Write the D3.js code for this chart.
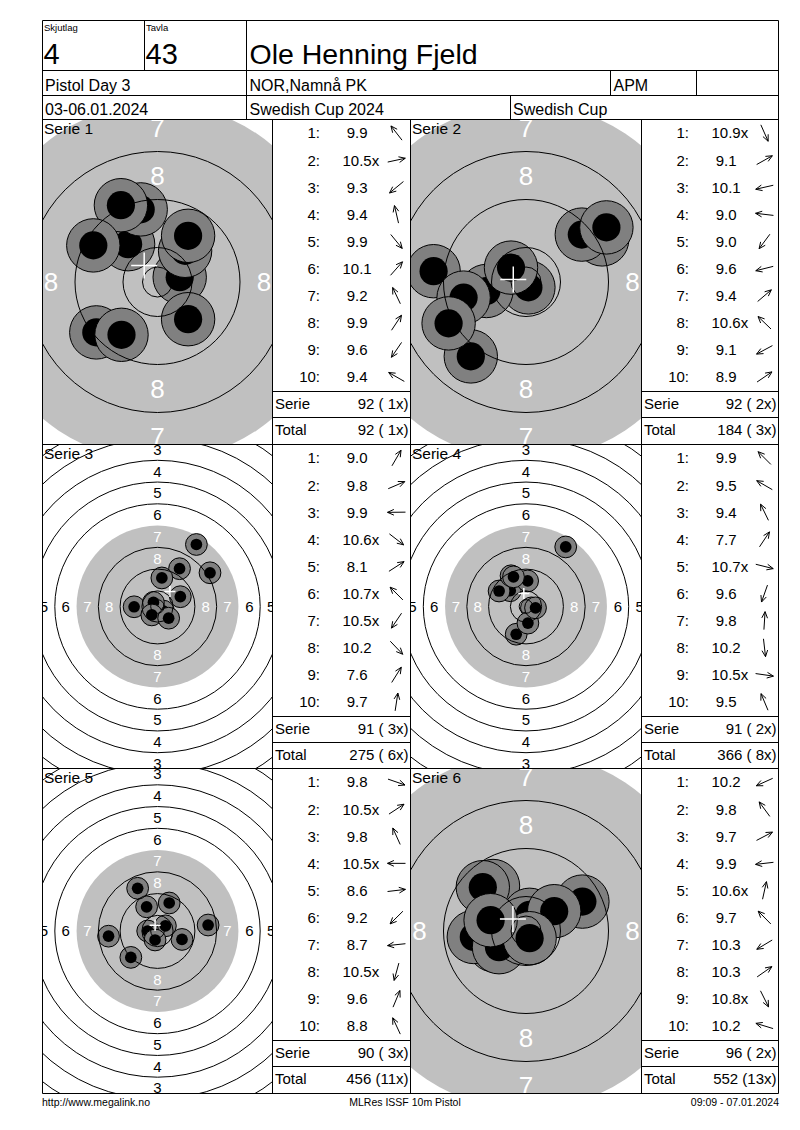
<!DOCTYPE html>
<html>
<head>
<meta charset="utf-8">
<script src="https://cdn.jsdelivr.net/npm/d3@7"></script>
<style>
  body { margin: 0; background: #fff; }
  svg { display: block; font-family: "Liberation Sans", Arial, sans-serif; }
  text { white-space: pre; }
</style>
</head>
<body>
<svg id="card" width="800" height="1130"></svg>
<script>
// header texts
const skjutlag = "4", tavla = "43", shooter = "Ole Henning Fjeld";
const eventName = "Pistol Day 3", club = "NOR,Namnå PK", klass = "APM";
const dates = "03-06.01.2024", competition = "Swedish Cup 2024", cup = "Swedish Cup";
const footLeft = "http://www.megalink.no", footMid = "MLRes ISSF 10m Pistol", footRight = "09:09 - 07.01.2024";

// ISSF 10m pistol target: ring diameters in mm (ring 1..10) and inner ten
const ringNumbers = [1, 2, 3, 4, 5, 6, 7, 8, 9, 10];
const ringDiam = [155.5, 139.5, 123.5, 107.5, 91.5, 75.5, 59.5, 43.5, 27.5, 11.5];
const innerTenDiam = 5.0;

const serieNames = ["Serie 1", "Serie 2", "Serie 3", "Serie 4", "Serie 5", "Serie 6"];
const serieView = ["near", "near", "far", "far", "far", "near"];

// shot scores as printed, and hit positions in mm (x right, y up)
const scores1 = ["9.9", "10.5x", "9.3", "9.4", "9.9", "10.1", "9.2", "9.9", "9.6", "9.4"];
const posX1 = [-4.9, 3.7, -10.2, -2.8, 5.1, 4.6, -6.1, 5.1, -6.0, -10.7];
const posY1 = [6.3, 0.8, -8.4, 12.1, -6.2, 5.2, 12.8, 7.7, -8.8, 6.1];

const scores2 = ["10.9x", "9.1", "10.1", "9.0", "9.0", "9.6", "9.4", "10.6x", "9.1", "8.9"];
const posX2 = [0.4, 12.7, -6.6, -15.4, -9.2, -10.4, 9.3, -2.5, -12.9, 13.4];
const posY2 = [-0.9, 7.1, -1.5, 1.8, -12.4, -2.6, 7.9, 2.4, -6.9, 9.1];

const scores3 = ["9.0", "9.8", "9.9", "10.6x", "8.1", "10.7x", "10.5x", "10.2", "7.6", "9.7"];
const posX3 = [8.1, 8.4, -8.6, 2.2, 19.3, -1.5, -2.1, 4.1, 14.3, 1.6];
const posY3 = [13.9, 3.6, -0.1, -1.7, 12.4, 1.5, -3.1, -4.3, 22.8, 10.5];

const scores4 = ["9.9", "9.5", "9.4", "7.7", "10.7x", "9.6", "9.8", "10.2", "10.5x", "9.5"];
const posX4 = [-5.8, -9.9, -5.5, 14.6, 2.0, -3.6, 0.6, 0.7, 3.5, -4.6];
const posY4 = [5.8, 5.7, 11.3, 21.9, -0.5, -10.2, 9.4, -6.1, -0.5, 10.9];

const scores5 = ["9.8", "10.5x", "9.8", "10.5x", "8.6", "9.2", "8.7", "10.5x", "9.6", "8.8"];
const posX5 = [9.0, 2.9, -4.0, -3.6, 18.6, -9.8, -18.0, -0.9, 4.3, -7.3];
const posY5 = [-3.1, 1.9, 8.9, 0.0, 2.2, -9.7, -1.9, -3.3, 10.3, 15.7];

const scores6 = ["10.2", "9.8", "9.7", "9.9", "10.6x", "9.7", "10.3", "10.3", "10.8x", "10.2"];
const posX6 = [-5.3, -5.5, 9.4, -8.7, 0.6, -7.2, -4.5, 4.7, 0.6, -5.9];
const posY6 = [-2.4, 7.5, 4.9, -1.0, 2.7, 7.3, -2.7, 3.3, -1.2, 1.8];

const allScores = [scores1, scores2, scores3, scores4, scores5, scores6];
const allX = [posX1, posX2, posX3, posX4, posX5, posX6];
const allY = [posY1, posY2, posY3, posY4, posY5, posY6];

// layout
const X0 = 42.5, XL1 = 272.5, XM = 410.5, XL2 = 641.5, X1 = 778.5;
const YT = 20.5, YH1 = 70.5, YH2 = 95.5;
const blockY = [119.5, 444.5, 768.5, 1093.5];
const rowH = 27.1;

const views = {
    near: { k: 6.0, font: 26, outer: 4.45, inner: 2.35, cross: 13 },
    far: { k: 2.72, font: 15, outer: 4.0, inner: 2.15, cross: 5.5 }
};

const svg = d3.select("#card");
svg.append("rect").attr("width", 800).attr("height", 1130).attr("fill", "#fff");
const defs = svg.append("defs");

const series = serieNames.map((name, i) => ({
    name,
    view: views[serieView[i]],
    shots: allScores[i].map((s, j) => ({
        n: j + 1, label: s, value: parseFloat(s), x: allX[i][j], y: allY[i][j],
        inner: s.endsWith("x")
    }))
}));

let runTotal = 0, runX = 0;

series.forEach((serie, i) => {
    const col = i % 2, row = Math.floor(i / 2);
    const tx0 = col ? XM : X0, tx1 = col ? XL2 : XL1;
    const lx0 = tx1, lx1 = col ? X1 : XM;
    const by0 = blockY[row], by1 = blockY[row + 1];
    const cx = (tx0 + tx1) / 2, cy = (by0 + by1) / 2;
    const v = serie.view;

    const x = d3.scaleLinear().domain([-1, 1]).range([cx - v.k, cx + v.k]);
    const y = d3.scaleLinear().domain([-1, 1]).range([cy + v.k, cy - v.k]);
    const r = d3.scaleLinear().domain([0, 1]).range([0, v.k]);

    defs.append("clipPath").attr("id", "clip" + i)
        .append("rect")
        .attr("x", tx0).attr("y", by0)
        .attr("width", tx1 - tx0).attr("height", by1 - by0);

    const g = svg.append("g").attr("clip-path", `url(#clip${i})`);

    // black aiming area (7 ring) shown grey
    g.append("circle")
        .attr("cx", x(0)).attr("cy", y(0))
        .attr("r", r(ringDiam[6] / 2))
        .attr("fill", "#c0c0c0");

    // ring numbers (under the shots), only those that fall inside the target cell
    const dirs = [[0, 1], [0, -1], [-1, 0], [1, 0]];
    const labels = [];
    ringNumbers.filter(n => n <= 8).forEach(n => {
        const lr = ringDiam[n - 1] / 2 - 4;
        dirs.forEach(([dx, dy]) => {
            const px = x(dx * lr), py = y(dy * lr);
            if (px > tx0 - 3 && px < tx1 + 3 && py > by0 - 3 && py < by1 + 3) labels.push({ n, px, py });
        });
    });
    g.selectAll("text.ringnum")
        .data(labels)
        .join("text")
        .attr("class", "ringnum")
        .attr("x", d => d.px)
        .attr("y", d => d.py)
        .attr("dy", "0.36em")
        .attr("text-anchor", "middle")
        .attr("font-size", v.font)
        .attr("fill", d => d.n >= 7 ? "#fff" : "#000")
        .text(d => d.n);

    // shots
    const shot = g.selectAll("g.shot")
        .data(serie.shots)
        .join("g")
        .attr("class", "shot");
    shot.append("circle")
        .attr("cx", d => x(d.x)).attr("cy", d => y(d.y))
        .attr("r", r(v.outer))
        .attr("fill", "#808080")
        .attr("stroke", "#000")
        .attr("stroke-width", 1);
    shot.append("circle")
        .attr("cx", d => x(d.x)).attr("cy", d => y(d.y))
        .attr("r", r(v.inner))
        .attr("fill", "#000");

    // ring lines
    g.selectAll("circle.ring")
        .data(ringNumbers.filter(n => n !== 7))
        .join("circle")
        .attr("class", "ring")
        .attr("cx", x(0)).attr("cy", y(0))
        .attr("r", n => r(ringDiam[n - 1] / 2))
        .attr("fill", "none")
        .attr("stroke", "#000")
        .attr("stroke-width", 1);
    g.append("circle")
        .attr("cx", x(0)).attr("cy", y(0))
        .attr("r", r(innerTenDiam / 2))
        .attr("fill", "none")
        .attr("stroke", "#000")
        .attr("stroke-width", 1);

    // group centre
    const mx = d3.mean(serie.shots, d => d.x), my = d3.mean(serie.shots, d => d.y);
    g.append("path")
        .attr("d", `M${x(mx) - v.cross},${y(my)}H${x(mx) + v.cross}M${x(mx)},${y(my) - v.cross}V${y(my) + v.cross}`)
        .attr("stroke", "#fff")
        .attr("stroke-width", 1.5);

    g.append("text")
        .attr("x", tx0 + 1.5).attr("y", by0 + 14.5)
        .attr("font-size", 15.5)
        .text(serie.name);

    // shot list
    const list = svg.append("g").attr("font-size", 15);
    serie.shots.forEach((s, j) => {
        const rc = by0 + rowH * j + rowH / 2;
        list.append("text")
            .attr("x", lx0 + 47.5).attr("y", rc).attr("dy", "0.36em")
            .attr("text-anchor", "end")
            .text(s.n + ":");
        list.append("text")
            .attr("x", lx0 + 70 + (s.value < 10 ? 4.2 : 0)).attr("y", rc).attr("dy", "0.36em")
            .text(s.label);
        const ang = Math.atan2(s.y, s.x);
        const ax = lx1 - 14, L = 9;
        const hx = ax + Math.cos(ang) * L, hy = rc - Math.sin(ang) * L;
        const tx = ax - Math.cos(ang) * L, ty = rc + Math.sin(ang) * L;
        const h1 = ang + Math.PI - 0.42, h2 = ang + Math.PI + 0.42, hl = 7;
        list.append("path")
            .attr("d", `M${tx},${ty}L${hx},${hy}M${hx + Math.cos(h1) * hl},${hy - Math.sin(h1) * hl}L${hx},${hy}L${hx + Math.cos(h2) * hl},${hy - Math.sin(h2) * hl}`)
            .attr("fill", "none")
            .attr("stroke", "#000")
            .attr("stroke-width", 1);
    });

    const serieSum = d3.sum(serie.shots, d => Math.floor(d.value));
    const serieX = serie.shots.filter(d => d.inner).length;
    runTotal += serieSum;
    runX += serieX;
    const fmt = (t, xs) => `${t} (${String(xs).padStart(2, " ")}x)`;

    const ySerie = by0 + 271, yTotal = by0 + 297.5;
    list.append("text").attr("x", lx0 + 2.5).attr("y", ySerie + 18.3).text("Serie");
    list.append("text").attr("x", lx1 - 2).attr("y", ySerie + 18.3)
        .attr("text-anchor", "end").text(fmt(serieSum, serieX));
    list.append("text").attr("x", lx0 + 2.5).attr("y", yTotal + 18.3).text("Total");
    list.append("text").attr("x", lx1 - 2).attr("y", yTotal + 18.3)
        .attr("text-anchor", "end").text(fmt(runTotal, runX));

    svg.append("path")
        .attr("d", `M${lx0},${Math.round(ySerie) + 0.5}H${lx1}M${lx0},${Math.round(yTotal) + 0.5}H${lx1}`)
        .attr("stroke", "#000");
});

// header texts
const head = svg.append("g");
head.append("text").attr("x", 44).attr("y", 31).attr("font-size", 9.5).text("Skjutlag");
head.append("text").attr("x", 146).attr("y", 31).attr("font-size", 9.5).text("Tavla");
head.append("text").attr("x", 43.5).attr("y", 63.5).attr("font-size", 29).text(skjutlag);
head.append("text").attr("x", 145.5).attr("y", 63.5).attr("font-size", 29).text(tavla);
head.append("text").attr("x", 249.5).attr("y", 63.5).attr("font-size", 28.5).text(shooter);
head.append("text").attr("x", 45).attr("y", 91).attr("font-size", 16).text(eventName);
head.append("text").attr("x", 249.5).attr("y", 91).attr("font-size", 16).text(club);
head.append("text").attr("x", 613.5).attr("y", 91).attr("font-size", 16).text(klass);
head.append("text").attr("x", 45).attr("y", 115).attr("font-size", 16).text(dates);
head.append("text").attr("x", 249.5).attr("y", 115).attr("font-size", 16).text(competition);
head.append("text").attr("x", 513).attr("y", 115).attr("font-size", 16).text(cup);

// footer
svg.append("text").attr("x", 42).attr("y", 1106).attr("font-size", 10.5).text(footLeft);
svg.append("text").attr("x", 405).attr("y", 1106).attr("font-size", 10.5)
    .attr("text-anchor", "middle").text(footMid);
svg.append("text").attr("x", 779).attr("y", 1106).attr("font-size", 10.5)
    .attr("text-anchor", "end").text(footRight);

// grid lines
const grid = [
    `M${X0},${YT}H${X1}V${blockY[3]}H${X0}Z`,
    `M${X0},${YH1}H${X1}M${X0},${YH2}H${X1}`,
    ...blockY.slice(0, 3).map(b => `M${X0},${b}H${X1}`),
    `M144.5,${YT}V${YH1}M246.5,${YT}V${blockY[0]}`,
    `M610.5,${YH1}V${YH2}M696.5,${YH1}V${YH2}M510.5,${YH2}V${blockY[0]}`,
    `M${XL1},${blockY[0]}V${blockY[3]}M${XM},${blockY[0]}V${blockY[3]}M${XL2},${blockY[0]}V${blockY[3]}`
];
svg.append("path")
    .attr("d", grid.join(""))
    .attr("fill", "none")
    .attr("stroke", "#000")
    .attr("stroke-width", 1);
</script>
</body>
</html>
